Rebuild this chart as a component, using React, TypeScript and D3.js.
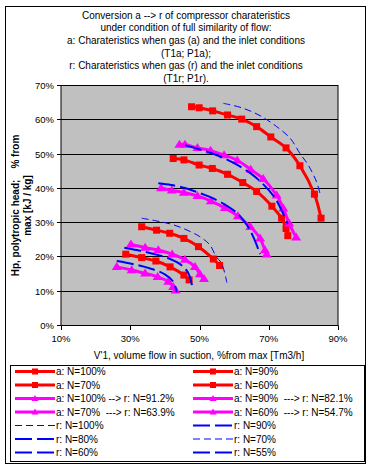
import React from "react";
import * as d3 from "d3";

// tick values
const vTicks = [10, 30, 50, 70, 90];
const hTicks = [0, 10, 20, 30, 40, 50, 60, 70];

const titleLines = [
  "Conversion a --> r of compressor charateristics",
  "under condition of full similarity of flow:",
  "a: Charateristics when gas (a) and the inlet conditions",
  "(T1a; P1a);",
  "r: Charateristics when gas (r) and the inlet conditions",
  "(T1r; P1r).",
];

// [volume flow %, head %]
const aN100 = [[47.7, 63.8], [49.9, 63.5], [53.8, 62.6], [58.1, 61.4], [62.2, 60.2], [66.5, 58.0], [70.6, 55.0], [75.0, 51.8], [79.0, 46.6], [83.2, 38.3], [85.1, 31.3]];
const aN90 = [[42.4, 48.7], [45.5, 48.3], [49.9, 46.8], [53.7, 45.8], [58.1, 44.1], [62.5, 41.7], [66.5, 39.1], [70.9, 34.8], [73.7, 31.3], [75.0, 28.3], [75.5, 26.2]];
const aN70 = [[33.3, 28.8], [37.6, 27.8], [41.4, 26.9], [45.5, 25.4], [49.7, 23.0], [54.0, 19.4], [55.8, 17.5]];
const aN60 = [[28.7, 20.8], [33.3, 19.8], [37.4, 18.8], [41.5, 17.1], [45.5, 14.7], [47.0, 13.3]];

const conv100 = [[44.2, 52.8], [45.8, 52.8], [49.4, 51.8], [53.2, 51.0], [57.1, 49.7], [60.9, 48.2], [64.8, 45.5], [68.4, 42.8], [72.3, 38.0], [74.2, 34.2], [75.9, 29.8], [77.9, 25.7]];
const conv90 = [[38.9, 40.1], [42.0, 39.4], [45.5, 38.8], [49.4, 37.8], [53.3, 36.3], [57.3, 34.3], [61.1, 31.9], [64.7, 28.8], [67.5, 25.4], [68.9, 22.0], [69.4, 20.8]];
const conv70 = [[30.2, 23.7], [34.3, 22.7], [38.1, 22.0], [42.1, 20.8], [45.8, 19.2], [48.7, 17.1], [50.1, 15.0], [51.3, 13.6]];
const conv60 = [[26.1, 17.1], [30.4, 16.2], [34.3, 15.2], [37.9, 14.2], [41.0, 12.8], [42.4, 11.3], [43.1, 10.3]];

const rN100 = [[56.9, 64.8], [62.2, 63.5], [67.5, 61.2], [72.3, 58.0], [76.2, 54.6], [79.0, 50.2], [81.4, 46.8], [83.8, 41.9], [84.8, 38.5]];
const rN90 = [[45.8, 52.6], [49.6, 51.5], [53.3, 50.3], [57.1, 48.8], [60.8, 46.9], [64.6, 44.5], [68.3, 41.3], [71.8, 37.2], [73.8, 33.4], [75.5, 29.6]];
const rN80 = [[38.1, 41.5], [41.8, 41.0], [45.8, 40.1], [49.3, 38.9], [53.0, 37.5], [57.1, 35.4], [60.8, 32.8], [63.7, 29.3], [65.7, 25.5], [67.5, 20.8]];
const rN70 = [[33.3, 31.3], [37.6, 30.5], [42.0, 29.5], [45.8, 28.1], [50.1, 25.9], [53.0, 23.5], [54.8, 20.1], [56.4, 18.1], [57.9, 12.5]];
const rN60 = [[28.3, 22.7], [31.9, 22.0], [36.2, 21.0], [41.0, 19.6], [44.9, 17.5], [46.8, 15.2], [48.0, 10.9]];
const rN55 = [[26.1, 18.8], [31.4, 17.8], [36.2, 16.5], [40.0, 14.9], [42.4, 12.8], [43.4, 9.7]];

const legendLabels = [
  "a: N=100%", "a: N=90%",
  "a: N=70%", "a: N=60%",
  "a: N=100% --> r: N=91.2%", "a: N=90%  ---> r: N=82.1%",
  "a: N=70%  ---> r: N=63.9%", "a: N=60%  ---> r: N=54.7%",
  "r: N=100%", "r: N=90%",
  "r: N=80%", "r: N=70%",
  "r: N=60%", "r: N=55%",
];

type Kind = "red" | "mag" | "thin" | "long";

const series: { label: string; data: number[][]; kind: Kind }[] = [
  { label: "a: N=100%", data: aN100, kind: "red" },
  { label: "a: N=90%", data: aN90, kind: "red" },
  { label: "a: N=70%", data: aN70, kind: "red" },
  { label: "a: N=60%", data: aN60, kind: "red" },
  { label: "a: N=100% --> r: N=91.2%", data: conv100, kind: "mag" },
  { label: "a: N=90%  ---> r: N=82.1%", data: conv90, kind: "mag" },
  { label: "a: N=70%  ---> r: N=63.9%", data: conv70, kind: "mag" },
  { label: "a: N=60%  ---> r: N=54.7%", data: conv60, kind: "mag" },
  { label: "r: N=100%", data: rN100, kind: "thin" },
  { label: "r: N=90%", data: rN90, kind: "long" },
  { label: "r: N=80%", data: rN80, kind: "long" },
  { label: "r: N=70%", data: rN70, kind: "thin" },
  { label: "r: N=60%", data: rN60, kind: "long" },
  { label: "r: N=55%", data: rN55, kind: "long" },
];

const styles: Record<Kind, { stroke: string; width: number; dash?: string }> = {
  red: { stroke: "#FF0000", width: 3 },
  mag: { stroke: "#FF00FF", width: 3 },
  thin: { stroke: "#0000FF", width: 1, dash: "7,4" },
  long: { stroke: "#0000FF", width: 2, dash: "17,5" },
};

const font = "'Liberation Sans', Arial, sans-serif";

function Marker({ kind, x, y, small }: { kind: Kind; x: number; y: number; small?: boolean }) {
  if (kind === "red") {
    const s = small ? 6 : 7;
    return <rect x={x - s / 2} y={y - s / 2} width={s} height={s} fill="#FF0000" />;
  }
  if (kind === "mag") {
    const w = small ? 3.5 : 5, h = small ? 6 : 8;
    return <path d={`M${x},${y - h * 0.6}L${x + w},${y + h * 0.4}L${x - w},${y + h * 0.4}Z`} fill="#FF00FF" />;
  }
  return null;
}

export default function App() {
  const x = d3.scaleLinear().domain([10, 90]).range([61, 338]);
  const y = d3.scaleLinear().domain([0, 70]).range([325.5, 85.5]);
  const line = d3
    .line<number[]>()
    .x((d) => x(d[0]))
    .y((d) => y(d[1]))
    .curve(d3.curveCatmullRom.alpha(0.5));
  const gy = (h: number) => Math.round(y(h) - 0.5) + 0.5;

  return (
    <svg width={372} height={470} style={{ position: "absolute", left: 0, top: 0, background: "#fff" }} fontFamily={font}>
      <rect x={5.5} y={6.5} width={360} height={457} fill="#fff" stroke="#000" />
      {titleLines.map((t, i) => (
        <text key={i} x={186} y={18.5 + i * 12.7} textAnchor="middle" fontSize={10}>
          {t}
        </text>
      ))}

      {/* plot area */}
      <rect x={61} y={85.5} width={277} height={240} fill="#C0C0C0" stroke="#000" />
      {hTicks.map((h) => (
        <g key={h}>
          <line x1={57} x2={338} y1={gy(h)} y2={gy(h)} stroke="#000" />
          <text x={54} y={gy(h) + 3.5} textAnchor="end" fontSize={9.5}>
            {h}%
          </text>
        </g>
      ))}
      {vTicks.map((v) => (
        <g key={v}>
          <line x1={Math.round(x(v)) + 0.5} x2={Math.round(x(v)) + 0.5} y1={325.5} y2={330} stroke="#000" />
          <text x={x(v)} y={341.5} textAnchor="middle" fontSize={9.5}>
            {v}%
          </text>
        </g>
      ))}

      {series.map((s) => {
        const st = styles[s.kind];
        return (
          <g key={s.label}>
            <path d={line(s.data) || ""} fill="none" stroke={st.stroke} strokeWidth={st.width} strokeDasharray={st.dash} />
            {s.data.map((d, i) => (
              <Marker key={i} kind={s.kind} x={x(d[0])} y={y(d[1])} />
            ))}
          </g>
        );
      })}

      {/* axis titles */}
      <text x={199} y={359} textAnchor="middle" fontSize={10}>
        V'1, volume flow in suction, %from max [Tm3/h]
      </text>
      <g transform="translate(0,205.5) rotate(-90)">
        <text x={0} y={18.5} textAnchor="middle" fontSize={10} fontWeight="bold">
          {"Hp, polytropic head;\u00a0\u00a0\u00a0\u00a0% from"}
        </text>
        <text x={0} y={30.5} textAnchor="middle" fontSize={10} fontWeight="bold">
          max [kJ / kg]
        </text>
      </g>

      {/* legend */}
      <rect x={10.5} y={365.5} width={354} height={96} fill="#fff" stroke="#000" />
      {legendLabels.map((lab, i) => {
        const s = series.find((d) => d.label === lab)!;
        const st = styles[s.kind];
        const col = i % 2;
        const row = Math.floor(i / 2);
        const lx = col === 0 ? 15 : 193;
        const ly = 371.5 + row * 13.5;
        return (
          <g key={lab}>
            <line x1={lx} x2={lx + 40} y1={ly} y2={ly} stroke={st.stroke} strokeWidth={st.width} strokeDasharray={st.dash} />
            <Marker kind={s.kind} x={lx + 20} y={ly} small />
            <text x={lx + 41} y={ly + 3.5} fontSize={10} style={{ whiteSpace: "pre" }}>
              {lab}
            </text>
          </g>
        );
      })}
    </svg>
  );
}
